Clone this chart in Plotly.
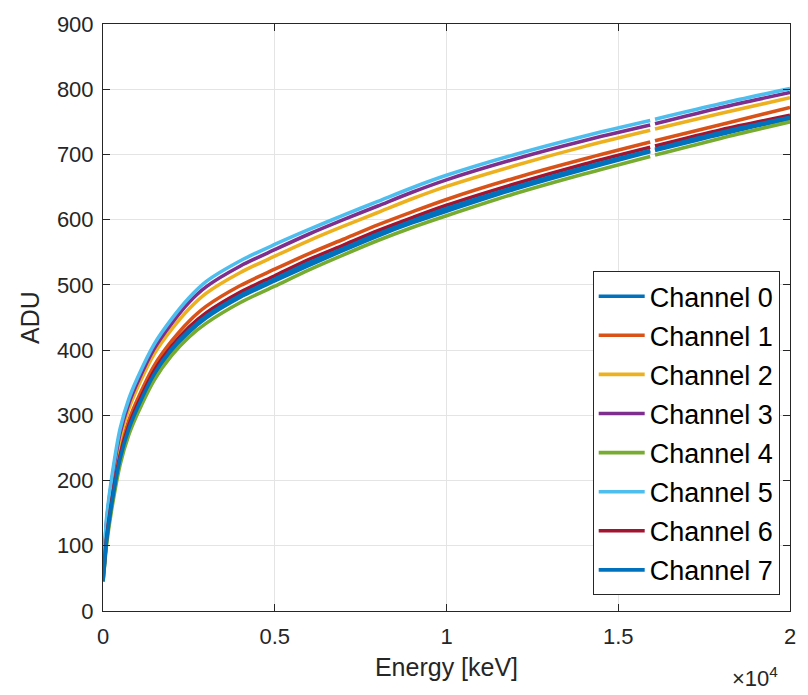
import plotly.graph_objects as go

energy = [0, 50, 100, 250, 500, 750, 1000, 1500, 2000, 2500, 3000, 4000, 5000, 6000,
          7000, 8000, 9000, 10000, 12000, 14000, 15930, 16000, 16070, 18000, 20000]

ch0 = [45, 75, 105, 161, 232, 277, 309, 362, 399, 427, 449, 481, 506, 530, 553, 575, 595, 613, 647, 677, 704, None, 706, 731, 755]
ch1 = [57, 83, 116, 174, 247, 292, 324, 377, 414, 444, 467, 499, 524, 548, 570, 592, 612, 631, 664, 693, 719, None, 721, 746, 772]
ch2 = [67, 92, 129, 190, 265, 310, 342, 395, 432, 463, 487, 519, 544, 568, 590, 611, 632, 651, 683, 712, 737, None, 739, 763, 787]
ch3 = [71, 97, 135, 197, 273, 318, 350, 403, 441, 473, 497, 529, 554, 578, 600, 621, 642, 661, 693, 721, 745, None, 747, 772, 795]
ch4 = [45, 72, 100, 155, 225, 270, 302, 355, 392, 420, 441, 473, 498, 523, 546, 568, 588, 606, 640, 670, 697, None, 699, 725, 750]
ch5 = [75, 100, 140, 203, 280, 325, 357, 410, 448, 480, 505, 537, 562, 585, 607, 628, 649, 668, 700, 728, 752, None, 754, 778, 801]
ch6 = [53, 79, 110, 167, 239, 284, 316, 369, 406, 435, 457, 489, 514, 539, 561, 583, 603, 622, 655, 685, 711, None, 713, 738, 760]
ch7 = [46, 77, 107, 163, 234, 279, 311, 364, 402, 430, 452, 484, 509, 534, 556, 578, 598, 617, 650, 680, 706, None, 708, 734, 757]

names = ["Channel 0", "Channel 1", "Channel 2", "Channel 3",
         "Channel 4", "Channel 5", "Channel 6", "Channel 7"]
series = [ch0, ch1, ch2, ch3, ch4, ch5, ch6, ch7]
colors = ["#0072BD", "#D95319", "#EDB120", "#7E2F8E",
          "#77AC30", "#4DBEEE", "#A2142F", "#0072BD"]

xtick_vals = [0, 5000, 10000, 15000, 20000]
xtick_text = ["0", "0.5", "1", "1.5", "2"]
ytick_vals = [0, 100, 200, 300, 400, 500, 600, 700, 800, 900]

FONT = "Liberation Sans, Arial, Helvetica, sans-serif"
DARK = "#262626"

fig = go.Figure()
for name, ys, col in zip(names, series, colors):
    fig.add_trace(go.Scatter(x=energy, y=ys, mode="lines", name=name,
                             legendgroup=name, connectgaps=False,
                             line=dict(color=col, width=3.6, shape="spline", smoothing=0.8)))

axis_common = dict(showline=True, linecolor=DARK, linewidth=1,
                   mirror="ticks", ticks="inside", ticklen=7, tickcolor=DARK,
                   showgrid=True, gridcolor="#e4e4e4", gridwidth=1,
                   zeroline=False, tickfont=dict(family=FONT, size=22, color=DARK))

fig.update_layout(
    width=808, height=695,
    margin=dict(l=103, r=18, t=20, b=84),
    paper_bgcolor="white", plot_bgcolor="white",
    font=dict(family=FONT, color=DARK),
    xaxis=dict(range=[0, 20000], tickvals=xtick_vals, ticktext=xtick_text,
               ticklabelstandoff=6,
               title=dict(text="Energy [keV]", font=dict(family=FONT, size=25, color=DARK), standoff=10),
               **axis_common),
    yaxis=dict(range=[0, 900], tickvals=ytick_vals, ticklabelstandoff=4,
               title=dict(text="ADU", font=dict(family=FONT, size=25, color=DARK), standoff=10),
               **axis_common),
    legend=dict(x=0.985, y=0.027, xanchor="right", yanchor="bottom",
                bgcolor="white", bordercolor=DARK, borderwidth=1,
                font=dict(family=FONT, size=27, color="black"),
                itemwidth=46,
                traceorder="grouped", tracegroupgap=1),
    showlegend=True,
)

fig.add_annotation(x=1.0, y=0, xref="paper", yref="paper", xanchor="right", yanchor="top",
                   xshift=-10, yshift=-50, showarrow=False,
                   text="×10<sup>4</sup>", font=dict(family=FONT, size=22, color=DARK))

fig.write_html("out.html")
